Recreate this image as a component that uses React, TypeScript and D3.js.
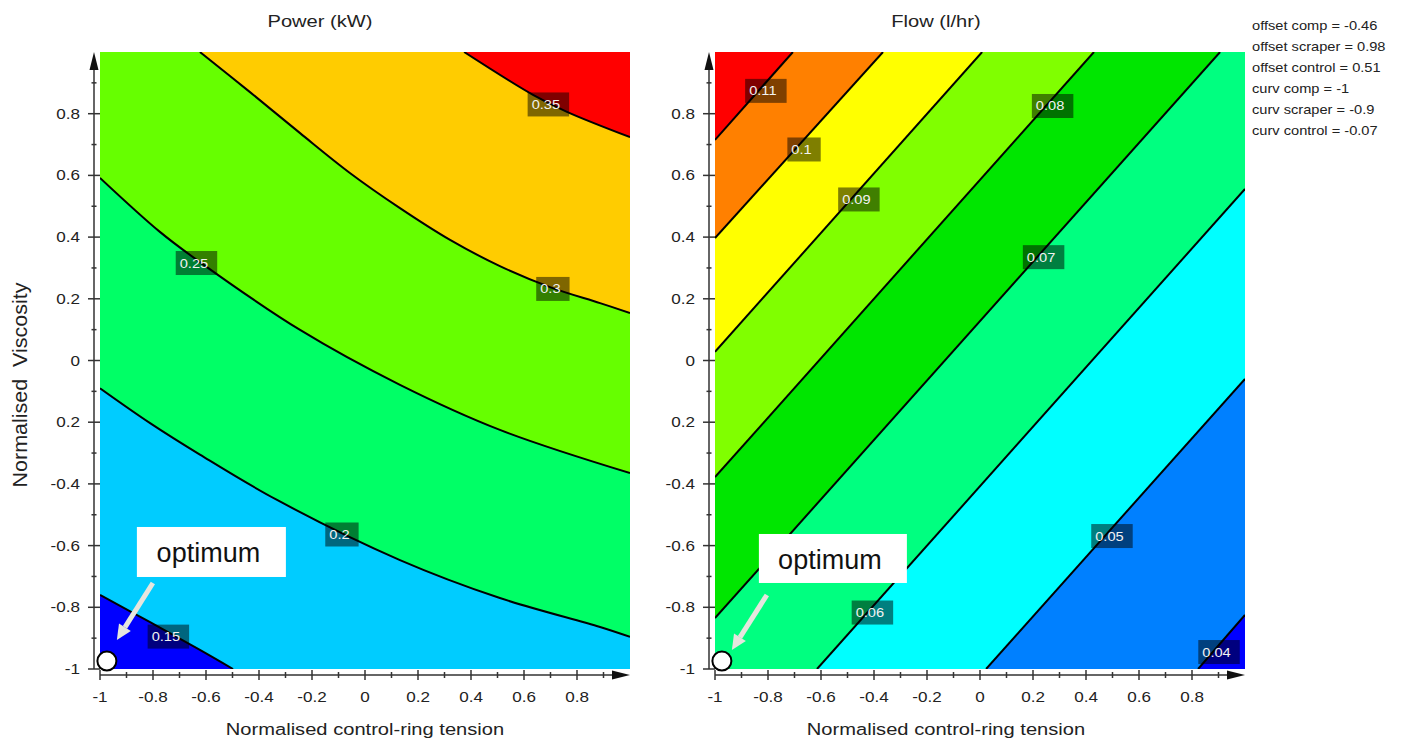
import React from 'react';
import * as d3 from 'd3';

const FONT = '"Liberation Sans", Arial, Helvetica, sans-serif';
const SX = 1.22;

type Pt = [number, number];

// ---------- axis data ----------
const majorTicks = [-1, -0.8, -0.6, -0.4, -0.2, 0, 0.2, 0.4, 0.6, 0.8];
const xTickLabels = ['-1', '-0.8', '-0.6', '-0.4', '-0.2', '0', '0.2', '0.4', '0.6', '0.8'];
const yTickLabels = ['-1', '-0.8', '-0.6', '-0.4', '0.2', '0', '0.2', '0.4', '0.6', '0.8'];
const minorTicks = [-0.9, -0.7, -0.5, -0.3, -0.1, 0.1, 0.3, 0.5, 0.7, 0.9];

// ---------- Power (kW) ----------
const powerLevels = [0.15, 0.2, 0.25, 0.3, 0.35];
const powerColors = ['#0000ff', '#00ccff', '#00ff66', '#66ff00', '#ffcc00', '#ff0000'];
const power015: Pt[] = [[-1, -0.76], [-0.811, -0.848], [-0.623, -0.938], [-0.498, -1]];
const power020: Pt[] = [[-1, -0.09], [-0.811, -0.203], [-0.623, -0.305], [-0.332, -0.452], [0.132, -0.647], [0.509, -0.77], [0.887, -0.864], [1, -0.896]];
const power025: Pt[] = [[-1, 0.592], [-0.774, 0.417], [-0.623, 0.319], [-0.245, 0.099], [0.132, -0.079], [0.509, -0.225], [1, -0.365]];
const power030: Pt[] = [[-0.623, 1], [-0.434, 0.87], [-0.245, 0.737], [-0.057, 0.608], [0.132, 0.494], [0.321, 0.391], [0.509, 0.306], [0.698, 0.238], [0.887, 0.186], [1, 0.154]];
const power035: Pt[] = [[0.374, 1], [0.634, 0.861], [0.762, 0.806], [1, 0.724]];
const powerContours = [power015, power020, power025, power030, power035];
const powerLabels: [string, number, number][] = [
  ['0.15', -0.742, -0.895], ['0.2', -0.087, -0.564], ['0.25', -0.636, 0.316], ['0.3', 0.709, 0.232], ['0.35', 0.692, 0.83],
];

// ---------- Flow (l/hr) ----------
const flowLevels = [0.04, 0.05, 0.06, 0.07, 0.08, 0.09, 0.1, 0.11];
const flowColors = ['#0000ff', '#0080ff', '#00ffff', '#00ff80', '#00e600', '#80ff00', '#ffff00', '#ff8000', '#ff0000'];
const flow004: Pt[] = [[0.823, -1], [1, -0.825]];
const flow005: Pt[] = [[0.023, -1], [1, -0.06]];
const flow006: Pt[] = [[-0.615, -1], [1, 0.556]];
const flow007: Pt[] = [[-1, -0.835], [0.906, 1]];
const flow008: Pt[] = [[-1, -0.378], [0.43, 1]];
const flow009: Pt[] = [[-1, 0.028], [0.008, 1]];
const flow010: Pt[] = [[-1, 0.397], [-0.366, 1]];
const flow011: Pt[] = [[-1, 0.715], [-0.706, 1]];
const flowContours = [flow004, flow005, flow006, flow007, flow008, flow009, flow010, flow011];
const flowLabels: [string, number, number][] = [
  ['0.04', 0.902, -0.945], ['0.05', 0.498, -0.569], ['0.06', -0.406, -0.817], ['0.07', 0.24, 0.335],
  ['0.08', 0.274, 0.825], ['0.09', -0.457, 0.522], ['0.1', -0.664, 0.684], ['0.11', -0.808, 0.874],
];

const optimumPoint: Pt = [-0.974, -0.974];

const legendLines = [
  'offset comp = -0.46',
  'offset scraper = 0.98',
  'offset control = 0.51',
  'curv comp = -1',
  'curv scraper = -0.9',
  'curv control = -0.07',
];

// ---------- helpers ----------
function perim(p: Pt): number {
  const [x, y] = p;
  const d = [Math.abs(y - 1), Math.abs(x - 1), Math.abs(y + 1), Math.abs(x + 1)];
  const k = d.indexOf(Math.min(...d));
  if (k === 0) return x + 1;
  if (k === 1) return 2 + (1 - y);
  if (k === 2) return 4 + (1 - x);
  return 6 + (y + 1);
}
const CORNERS: [number, Pt][] = [[0, [-1, 1]], [2, [1, 1]], [4, [1, -1]], [6, [-1, -1]]];
const mod8 = (v: number) => ((v % 8) + 8) % 8;

function highCorners(pts: Pt[], th: number): Pt[] {
  const ts = perim(pts[0]);
  const te = perim(pts[pts.length - 1]);
  const cw = mod8(th - te) < mod8(ts - te);
  if (cw) {
    const lim = mod8(ts - te);
    return CORNERS.filter(([t]) => mod8(t - te) < lim && mod8(t - te) > 0)
      .sort((a, b) => mod8(a[0] - te) - mod8(b[0] - te)).map(c => c[1]);
  }
  const lim = mod8(te - ts);
  return CORNERS.filter(([t]) => mod8(te - t) < lim && mod8(te - t) > 0)
    .sort((a, b) => mod8(te - a[0]) - mod8(te - b[0])).map(c => c[1]);
}

function emWidth(s: string): number {
  let w = 0;
  for (const ch of s) w += ch === '.' ? 0.278 : ch === '-' ? 0.333 : 0.556;
  return w;
}

function SText(props: { x: number; y: number; size: number; anchor?: string; fill?: string; children: any }) {
  const { x, y, size, anchor = 'start', fill = '#222', children } = props;
  return (
    <text transform={`translate(${x},${y}) scale(${SX},1)`} fontSize={size} textAnchor={anchor} fill={fill} fontFamily={FONT}>
      {children}
    </text>
  );
}

interface PanelProps {
  id: string;
  left: number;
  title: string;
  titleX: number;
  xTitleX: number;
  levels: number[];
  colors: string[];
  contours: Pt[][];
  labels: [string, number, number][];
  highT: number;
  box: { dx: number; dy: number; w: number; h: number };
  arrow: { x0: number; y0: number; x1: number; y1: number };
}

const TOP = 52;
const W = 530;
const H = 617;

function Panel(p: PanelProps) {
  const xs = d3.scaleLinear().domain([-1, 1]).range([p.left, p.left + W]);
  const ys = d3.scaleLinear().domain([-1, 1]).range([TOP + H, TOP]);
  const line = d3.line<Pt>().x(d => xs(d[0])).y(d => ys(d[1])).curve(d3.curveCatmullRom.alpha(0.5));
  const axX = p.left - 6;
  const axY = TOP + H + 6;
  const cx = xs(optimumPoint[0]);
  const cy = ys(optimumPoint[1]);

  // arrow geometry
  const ax0 = cx + p.arrow.x0, ay0 = cy + p.arrow.y0, ax1 = cx + p.arrow.x1, ay1 = cy + p.arrow.y1;
  const len = Math.hypot(ax1 - ax0, ay1 - ay0);
  const ux = (ax1 - ax0) / len, uy = (ay1 - ay0) / len;
  const hl = 15, hw = 7;
  const bx = ax1 - ux * hl, by = ay1 - uy * hl;

  return (
    <g>
      <defs>
        <clipPath id={`clip-${p.id}`}>
          <rect x={p.left} y={TOP} width={W} height={H} />
        </clipPath>
      </defs>
      <g clipPath={`url(#clip-${p.id})`}>
        <rect x={p.left} y={TOP} width={W} height={H} fill={p.colors[0]} />
        {p.contours.map((pts, i) => {
          const cs = highCorners(pts, p.highT);
          const d = line(pts) + cs.map(c => `L${xs(c[0])},${ys(c[1])}`).join('') + 'Z';
          return <path key={i} d={d} fill={p.colors[i + 1]} />;
        })}
        {p.contours.map((pts, i) => (
          <path key={'l' + i} d={line(pts) || ''} fill="none" stroke="#000" strokeWidth={2} />
        ))}
        {p.labels.map(([t, x, y]) => {
          const bw = emWidth(t) * 12 * SX + 13;
          const bh = 24;
          const bx0 = xs(x) - bw / 2;
          const by0 = ys(y) - bh / 2;
          return (
            <g key={t}>
              <rect x={bx0} y={by0} width={bw} height={bh} fill="#000" fillOpacity={0.5} />
              <SText x={bx0 + 4} y={by0 + bh / 2 + 4.5} size={12} fill="#f2f2f2">{t}</SText>
            </g>
          );
        })}
      </g>

      {/* y axis */}
      <line x1={axX} x2={axX} y1={TOP + H} y2={TOP + 10} stroke="#333" strokeWidth={1.5} />
      <polygon points={`${axX},${TOP} ${axX - 4.5},${TOP + 18} ${axX + 4.5},${TOP + 18}`} fill="#111" />
      {majorTicks.map((t, i) => (
        <g key={'yt' + i}>
          <line x1={axX - 6} x2={axX + 6} y1={ys(t)} y2={ys(t)} stroke="#333" strokeWidth={1.5} />
          <SText x={axX - 14} y={ys(t) + 5} size={14} anchor="end">{yTickLabels[i]}</SText>
        </g>
      ))}
      {minorTicks.map((t, i) => (
        <line key={'ym' + i} x1={axX - 2.5} x2={axX + 2.5} y1={ys(t)} y2={ys(t)} stroke="#333" strokeWidth={1.5} />
      ))}

      {/* x axis */}
      <line x1={p.left} x2={p.left + W - 10} y1={axY} y2={axY} stroke="#333" strokeWidth={1.5} />
      <polygon points={`${p.left + W},${axY} ${p.left + W - 18},${axY - 4.5} ${p.left + W - 18},${axY + 4.5}`} fill="#111" />
      {majorTicks.map((t, i) => (
        <g key={'xt' + i}>
          <line x1={xs(t)} x2={xs(t)} y1={axY - 5} y2={axY + 5} stroke="#333" strokeWidth={1.5} />
          <SText x={xs(t)} y={702} size={14} anchor="middle">{xTickLabels[i]}</SText>
        </g>
      ))}
      {minorTicks.map((t, i) => (
        <line key={'xm' + i} x1={xs(t)} x2={xs(t)} y1={axY - 3} y2={axY + 3} stroke="#333" strokeWidth={1.5} />
      ))}

      {/* titles */}
      <SText x={p.titleX} y={27} size={16.5} anchor="middle">{p.title}</SText>
      <SText x={p.xTitleX} y={735} size={16.5} anchor="middle">Normalised control-ring tension</SText>

      {/* optimum annotation */}
      <rect x={cx + p.box.dx} y={cy + p.box.dy} width={p.box.w} height={p.box.h} fill="#fff" />
      <text x={cx + p.box.dx + p.box.w / 2 - 3} y={cy + p.box.dy + 35} fontSize={27} textAnchor="middle" fontFamily={FONT} fill="#111">
        optimum
      </text>
      <line x1={ax0} y1={ay0} x2={bx} y2={by} stroke="#e6e6de" strokeWidth={5} />
      <polygon
        points={`${ax1},${ay1} ${bx - uy * hw},${by + ux * hw} ${bx + uy * hw},${by - ux * hw}`}
        fill="#e6e6de"
      />
      <circle cx={cx} cy={cy} r={9.5} fill="#fff" stroke="#000" strokeWidth={2} />
    </g>
  );
}

export default function App() {
  return (
    <svg width={1402} height={744} style={{ position: 'absolute', left: 0, top: 0, background: '#fff' }}>
      <rect x={0} y={0} width={1402} height={744} fill="#fff" />
      <Panel
        id="power"
        left={100}
        title="Power (kW)"
        titleX={320}
        xTitleX={365}
        levels={powerLevels}
        colors={powerColors}
        contours={powerContours}
        labels={powerLabels}
        highT={2}
        box={{ dx: 30, dy: -134, w: 149, h: 50 }}
        arrow={{ x0: 46, y0: -78, x1: 10, y1: -21 }}
      />
      <Panel
        id="flow"
        left={715}
        title="Flow (l/hr)"
        titleX={936}
        xTitleX={946}
        levels={flowLevels}
        colors={flowColors}
        contours={flowContours}
        labels={flowLabels}
        highT={0}
        box={{ dx: 37, dy: -127, w: 148, h: 49 }}
        arrow={{ x0: 45, y0: -66, x1: 10, y1: -11 }}
      />
      <text
        transform={`translate(27,385) scale(${SX},1) rotate(-90)`}
        fontSize={17}
        textAnchor="middle"
        fontFamily={FONT}
        fill="#222"
        textLength={205}
        lengthAdjust="spacingAndGlyphs"
        xmlSpace="preserve"
      >
        Normalised  Viscosity
      </text>
      {legendLines.map((t, i) => (
        <SText key={t} x={1252} y={30 + i * 21} size={12}>{t}</SText>
      ))}
    </svg>
  );
}
